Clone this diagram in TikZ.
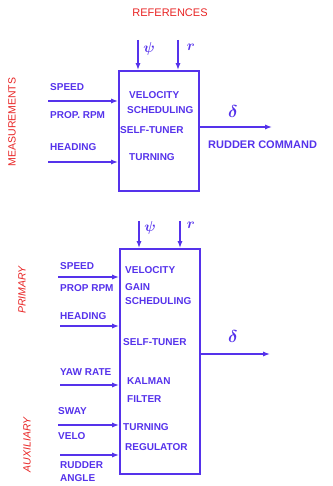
\documentclass[tikz,border=0pt]{standalone}
\usepackage{fontspec}
\setmainfont{Liberation Sans}
\usetikzlibrary{arrows.meta}
\definecolor{penblue}{RGB}{85,50,235}
\definecolor{penred}{RGB}{232,36,36}

\begin{document}
\begin{tikzpicture}[x=1pt,y=-1pt,font=\fontsize{10}{11}\selectfont\bfseries,>={Latex[length=2.4mm]},
  blk/.style={draw=penblue,line width=1.6pt,minimum width=80pt,anchor=north west,inner sep=0pt},
  lbl/.style={text=penblue,anchor=west,inner sep=0pt},
  grp/.style={text=penred,rotate=90,inner sep=0pt,font=\fontsize{10.5}{12}\selectfont\itshape},
  sym/.style={text=penblue,font=\fontsize{14}{15}\selectfont\boldmath},
  sig/.style={->,draw=penblue,line width=1.4pt}]
  \useasboundingbox (0,0) rectangle (332,486);
  \node[text=penred,font=\fontsize{11}{12}\selectfont] (ref) at (170,13) {REFERENCES};
  % upper block
  \node[blk,minimum height=120pt] (tb) at (118,70) {};
  \node[lbl] (tv) at (129,95) {VELOCITY};
  \node[lbl] (ts) at (127,110) {SCHEDULING};
  \node[lbl] (tt) at (120,130) {SELF-TUNER};
  \node[lbl] (tn) at (129,157) {TURNING};
  \node[lbl] (tsp) at (50,87) {SPEED};
  \node[lbl] (trpm) at (50,115) {PROP. RPM};
  \node[lbl] (thd) at (50,147) {HEADING};
  \node[grp,font=\fontsize{10.5}{12}\selectfont] (meas) at (12,122) {MEASUREMENTS};
  \coordinate (tpsi) at (138,40);
  \coordinate (tr) at (178,40);
  \node[sym] (tpsil) at (149,49) {$\psi$};
  \node[sym] (trl) at (191,47) {$r$};
  \foreach \c in {tpsi,tr} \draw[sig] (\c) -- (\c |- tb.north);
  \coordinate (ti1) at (48,101);
  \coordinate (ti2) at (48,162);
  \foreach \c in {ti1,ti2} \draw[sig] (\c) -- (\c -| tb.west);
  \coordinate (tout) at (272,127);
  \draw[sig] (tout -| tb.east) -- (tout);
  \node[sym,font=\fontsize{17}{18}\selectfont\boldmath] (td) at (233,112) {$\delta$};
  \node[lbl,font=\fontsize{11}{12}\selectfont\bfseries] (tcmd) at (208,145) {RUDDER COMMAND};
  % lower block
  \node[blk,minimum height=225pt] (bb) at (119,248) {};
  \node[lbl] (bv) at (125,270) {VELOCITY};
  \node[lbl] (bg) at (125,287) {GAIN};
  \node[lbl] (bs) at (125,301) {SCHEDULING};
  \node[lbl] (bt) at (123,342) {SELF-TUNER};
  \node[lbl] (bk) at (127,381) {KALMAN};
  \node[lbl] (bf) at (127,399) {FILTER};
  \node[lbl] (bn) at (123,427) {TURNING};
  \node[lbl] (br) at (125,447) {REGULATOR};
  \node[lbl] (bsp) at (60,266) {SPEED};
  \node[lbl] (brpm) at (60,288) {PROP RPM};
  \node[lbl] (bhd) at (60,316) {HEADING};
  \node[lbl] (byaw) at (60,372) {YAW RATE};
  \node[lbl] (bsw) at (58,411) {SWAY};
  \node[lbl] (bvel) at (58,436) {VELO};
  \node[lbl] (bru) at (60,465) {RUDDER};
  \node[lbl] (ban) at (60,478) {ANGLE};
  \node[grp] (prim) at (22,290) {PRIMARY};
  \node[grp] (aux) at (27,445) {AUXILIARY};
  \coordinate (bpsi) at (139,221);
  \coordinate (br) at (180,221);
  \node[sym] (bpsil) at (150,228) {$\psi$};
  \node[sym] (brl) at (191,225) {$r$};
  \foreach \c in {bpsi,br} \draw[sig] (\c) -- (\c |- bb.north);
  \coordinate (bi1) at (58,277);
  \coordinate (bi2) at (60,326);
  \coordinate (bi3) at (60,385);
  \coordinate (bi4) at (58,425);
  \coordinate (bi5) at (60,455);
  \foreach \c in {bi1,bi2,bi3,bi4,bi5} \draw[sig] (\c) -- (\c -| bb.west);
  \coordinate (bout) at (270,354);
  \draw[sig] (bout -| bb.east) -- (bout);
  \node[sym,font=\fontsize{17}{18}\selectfont\boldmath] (bd) at (233,336) {$\delta$};
\end{tikzpicture}
\end{document}
